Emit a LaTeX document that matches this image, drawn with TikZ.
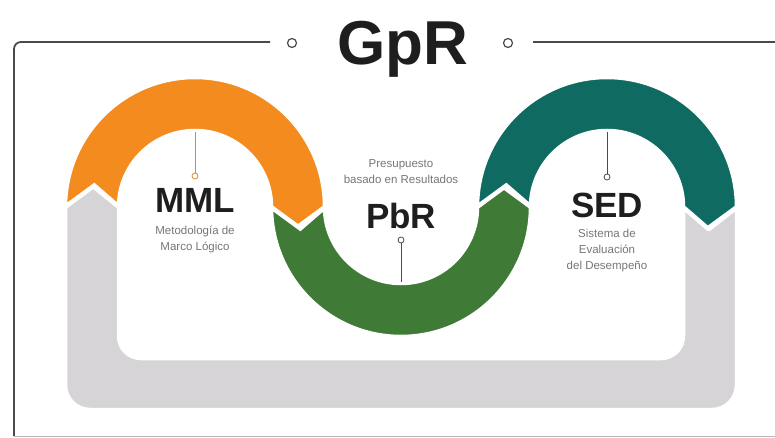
\documentclass[tikz,border=0pt]{standalone}
\usepackage{fontspec}
\setmainfont{Liberation Sans}
\definecolor{orangec}{HTML}{F38B1F}
\definecolor{greenc}{HTML}{3F7B36}
\definecolor{tealc}{HTML}{0F6B62}
\definecolor{greyc}{HTML}{D6D4D7}
\definecolor{framec}{HTML}{4A4A4A}
\definecolor{subc}{HTML}{767676}
\definecolor{titlec}{HTML}{1E1E1E}
\begin{document}
\begin{tikzpicture}[x=1pt,y=-1pt,
  seg/.style={draw=white,line width=4.5pt,line join=miter},
  bigtxt/.style={font=\fontsize{35}{35}\selectfont\bfseries,text=titlec,inner sep=0pt,anchor=base},
  subtxt/.style={font=\fontsize{11.5}{16}\selectfont,text=subc,align=center,inner sep=0pt,anchor=north},
  dot/.style={circle,draw=#1,line width=0.8pt,fill=white,inner sep=0pt,minimum size=6pt},
  tdot/.style={circle,draw=framec,line width=1.2pt,fill=white,inner sep=0pt,minimum size=9pt},
  stem/.style={line width=0.7pt,draw=#1}]
\useasboundingbox (0,0) rectangle (775,438);
\fill[white] (0,0) rectangle (775,438);

% frame
\draw[framec,line width=1.8pt,rounded corners=7pt] (270,42) -- (14,42) -- (14,436);
\draw[framec!40,line width=1pt] (14,436) -- (775,436);
\draw[framec,line width=1.8pt] (533,42) -- (775,42);
\node[tdot] (tl) at (292,43) {};
\node[tdot] (tr) at (508,43) {};
\node[font=\fontsize{62}{62}\selectfont\bfseries,text=titlec,inner sep=0pt,anchor=base] (gpr) at (403,65) {GpR};

% grey return band
\path[seg,fill=greyc] (65,207) -- (92.3,185.6) -- (119,207) -- (119,336)
  arc[start angle=180,end angle=90,radius=22] -- (661,358)
  arc[start angle=90,end angle=0,radius=22] -- (683,207) -- (709.7,228.4) -- (737,207) -- (737,385)
  arc[start angle=0,end angle=90,radius=25] -- (90,410)
  arc[start angle=90,end angle=180,radius=25] -- cycle;

% orange arc (MML)
\begin{scope}[shift={(195,207)}]
\path[seg,fill=orangec] (180:130) arc[start angle=180,end angle=360,radius=130]
  -- (372:103) -- (360:76) arc[start angle=360,end angle=180,radius=76] -- (192:103) -- cycle;
\end{scope}
% green arc (PbR)
\begin{scope}[shift={(401,207)}]
\path[seg,fill=greenc] (180:130) arc[start angle=180,end angle=0,radius=130]
  -- (-12:103) -- (0:76) arc[start angle=0,end angle=180,radius=76] -- (168:103) -- cycle;
\end{scope}
% teal arc (SED)
\begin{scope}[shift={(607,207)}]
\path[seg,fill=tealc] (180:130) arc[start angle=180,end angle=360,radius=130]
  -- (372:103) -- (360:76) arc[start angle=360,end angle=180,radius=76] -- (192:103) -- cycle;
\end{scope}

% MML
\coordinate (mmltop) at (195,132);
\node[dot=orangec!60!brown] (mmldot) at (195,176) {};
\draw[stem=orangec!60!brown] (mmltop) -- (mmldot);
\node[bigtxt] (mml) at (195,212) {MML};
\node[subtxt] (mmlsub) at (195,226) {Metodología de\\Marco Lógico};

% PbR
\node[subtxt] (pbrsub) at (401,159) {Presupuesto\\basado en Resultados};
\node[bigtxt] (pbr) at (401,228) {PbR};
\node[dot=framec] (pbrdot) at (401,240) {};
\coordinate (pbrbot) at (401,282);
\draw[stem=framec] (pbrdot) -- (pbrbot);

% SED
\coordinate (sedtop) at (607,132);
\node[dot=framec] (seddot) at (607,177) {};
\draw[stem=framec] (sedtop) -- (seddot);
\node[bigtxt] (sed) at (607,217) {SED};
\node[subtxt] (sedsub) at (607,229) {Sistema de\\Evaluación\\del Desempeño};
\end{tikzpicture}
\end{document}
